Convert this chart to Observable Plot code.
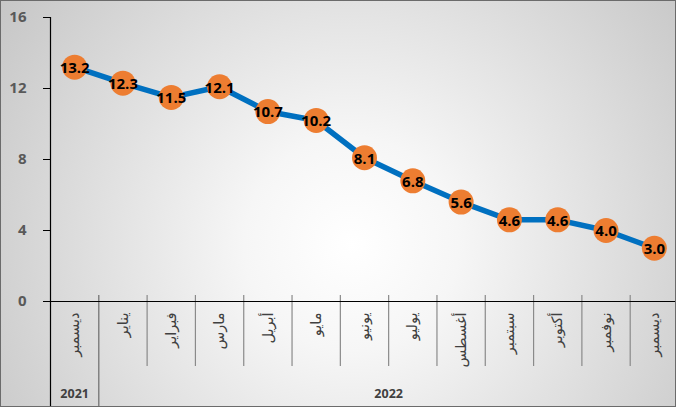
<!DOCTYPE html>
<html>
<head>
<meta charset="utf-8">
<script src="https://cdn.jsdelivr.net/npm/d3@7"></script>
<script src="https://cdn.jsdelivr.net/npm/@observablehq/plot@0.6"></script>
<style>
  html, body { margin: 0; padding: 0; background: #fff; }
  #chart svg { display: block; }
</style>
</head>
<body>
<div id="chart"></div>
<script>
const months = ["ديسمبر","يناير","فبراير","مارس","أبريل","مايو","يونيو","يوليو","أغسطس","سبتمبر","أكتوبر","نوفمبر","ديسمبر"];
const values = [13.2, 12.3, 11.5, 12.1, 10.7, 10.2, 8.1, 6.8, 5.6, 4.6, 4.6, 4.0, 3.0];
const years = ["2021", "2022"];
const yearStart = [0, 1];
const yearEnd = [0, 12];
const yTicks = [0, 4, 8, 12, 16];

const boundaries = d3.range(-0.5, months.length, 1);        // -0.5 ... 12.5
const yearBounds = yearStart.map(s => s - 0.5);             // -0.5, 0.5
const monthBounds = boundaries.filter(b => !yearBounds.includes(b) && b < months.length - 0.5);

const plot = Plot.plot({
  width: 676,
  height: 407,
  marginLeft: 50,
  marginRight: -2,
  marginTop: 17,
  marginBottom: 106,
  style: {
    background: "radial-gradient(circle at 52% 60%, #ffffff 0%, #f6f6f6 25%, #c6c6c6 100%)",
    fontFamily: "'Open Sans', 'DejaVu Sans', sans-serif",
    outline: "1.5px solid #6b6b6b",
    outlineOffset: "-1.5px",
    overflow: "hidden"
  },
  x: { domain: [-0.5, months.length - 0.5], axis: null },
  y: { domain: [0, 16] },
  marks: [
    Plot.ruleX(monthBounds, { x: d => d, stroke: "#8a8a8a", strokeWidth: 1.2, insetTop: 278, insetBottom: -65 }),
    Plot.ruleX(yearBounds.filter(b => b > -0.5), { x: d => d, stroke: "#6a6a6a", strokeWidth: 1.2, insetTop: 278, insetBottom: -106 }),
    Plot.ruleX([-0.5], { x: d => d, stroke: "black", strokeWidth: 1.2, insetBottom: -106 }),
    Plot.ruleY([0], { y: d => d, stroke: "black", strokeWidth: 1.2, insetLeft: -7 }),
    Plot.axisY({
      ticks: yTicks, tickSize: 7, tickPadding: 17, stroke: "black", fill: "#595959",
      fontSize: 15, fontWeight: "bold", label: null
    }),
    Plot.text(months, {
      x: (d, i) => i, text: d => d, frameAnchor: "bottom", dy: 11,
      rotate: -90, textAnchor: "end", lineAnchor: "middle",
      fontSize: 14.5, fill: "#404040", fontFamily: "'DejaVu Sans', sans-serif"
    }),
    Plot.text(years, {
      x: (d, i) => (yearStart[i] + yearEnd[i]) / 2, text: d => d,
      frameAnchor: "bottom", dy: 92, lineAnchor: "middle",
      fontSize: 12.5, fontWeight: "bold", fill: "#404040"
    }),
    Plot.line(values, { x: (d, i) => i, y: d => d, stroke: "#0070C0", strokeWidth: 5.5 }),
    Plot.dot(values, { x: (d, i) => i, y: d => d, r: 12.5, fill: "#ED7D31", stroke: "none" }),
    Plot.text(values, {
      x: (d, i) => i, y: d => d, text: d => d.toFixed(1), dy: 1,
      fontSize: 15, fontWeight: "bold", fill: "black", letterSpacing: "-0.3px"
    })
  ]
});
document.getElementById("chart").appendChild(plot);
</script>
</body>
</html>
